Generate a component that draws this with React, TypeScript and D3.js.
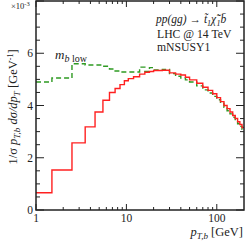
import React from "react";
import * as d3 from "d3";

// pT bin edges [GeV]
const binEdges = [
  1, 1.5, 2.5, 3.5, 4.5, 5.5, 6.5, 7.5, 8.5, 9.5, 10.5, 12, 14, 16, 18, 20, 25, 30, 35, 40,
  45, 50, 60, 70, 80, 90, 100, 110, 120, 130, 140, 150, 160, 170, 180, 190, 200,
];

// 1/sigma pT dsigma/dpT  (x 10^-3)
const nominal = [
  0.66, 1.53, 2.57, 3.18, 3.75, 4.2, 4.5, 4.65, 4.8, 4.95, 5.03, 5.1, 5.2, 5.27, 5.3, 5.34,
  5.35, 5.25, 5.2, 5.17, 5.08, 4.98, 4.85, 4.7, 4.58, 4.45, 4.3, 4.15, 4.0, 3.88, 3.75, 3.62,
  3.5, 3.38, 3.27, 3.16,
];
const mbLow = [
  4.9, 5.05, 5.6, 5.55, 5.55, 5.5, 5.4, 5.32, 5.28, 5.28, 5.28, 5.28, 5.47, 5.3, 5.45, 5.36,
  5.38, 5.22, 5.12, 5.05, 4.98, 4.9, 4.75, 4.6, 4.48, 4.35, 4.22, 4.08, 3.93, 3.8, 3.68, 3.55,
  3.43, 3.3, 3.2, 3.09,
];

const xMajor = [1, 10, 100];
const xLabels = ["1", "10", "100"];
const yMajor = [0, 2, 4, 6];

const W = 246;
const H = 242;
const margin = { top: 1, right: 2, bottom: 32, left: 36 };

const serif = "'Liberation Serif', 'DejaVu Serif', serif";

export default function App() {
  const x = d3
    .scaleLog()
    .domain([1, 200])
    .range([margin.left, W - margin.right]);
  const y = d3
    .scaleLinear()
    .domain([0, 8])
    .range([H - margin.bottom, margin.top]);

  const stepPath = (vals: number[]) => {
    const pts: [number, number][] = vals.map((v, i) => [binEdges[i], v]);
    pts.push([binEdges[binEdges.length - 1], vals[vals.length - 1]]);
    return d3
      .line<[number, number]>()
      .x(d => x(d[0]))
      .y(d => y(d[1]))
      .curve(d3.curveStepAfter)(pts) as string;
  };

  const x0 = margin.left;
  const x1 = W - margin.right;
  const yb = H - margin.bottom;
  const yt = margin.top;

  const xMinor: number[] = [];
  [1, 10, 100].forEach(dec => {
    for (let k = 2; k <= 9; k++) if (dec * k < 200) xMinor.push(dec * k);
  });
  const yMinor = d3.range(0, 8.01, 0.5).filter(v => v % 2 !== 0);

  const ink = "#222";

  return (
    <svg
      width={W}
      height={H}
      style={{ position: "absolute", left: 0, top: 0, background: "#fff" }}
      fontFamily={serif}
    >
      {/* curves */}
      <path d={stepPath(mbLow)} fill="none" stroke="#2e9a22" strokeWidth={1.4} strokeDasharray="5,3" />
      <path d={stepPath(nominal)} fill="none" stroke="#ff2020" strokeWidth={1.4} />

      {/* ticks */}
      <g stroke={ink} strokeWidth={1}>
        {xMajor.map(v => (
          <g key={"xM" + v}>
            <line x1={x(v)} x2={x(v)} y1={yb} y2={yb - 6} />
            <line x1={x(v)} x2={x(v)} y1={yt} y2={yt + 6} />
          </g>
        ))}
        {xMinor.map(v => (
          <g key={"xm" + v}>
            <line x1={x(v)} x2={x(v)} y1={yb} y2={yb - 3} />
            <line x1={x(v)} x2={x(v)} y1={yt} y2={yt + 3} />
          </g>
        ))}
        {yMajor.concat([8]).map(v => (
          <g key={"yM" + v}>
            <line x1={x0} x2={x0 + 8} y1={y(v)} y2={y(v)} />
            <line x1={x1} x2={x1 - 8} y1={y(v)} y2={y(v)} />
          </g>
        ))}
        {yMinor.map(v => (
          <g key={"ym" + v}>
            <line x1={x0} x2={x0 + 4} y1={y(v)} y2={y(v)} />
            <line x1={x1} x2={x1 - 4} y1={y(v)} y2={y(v)} />
          </g>
        ))}
      </g>

      {/* frame */}
      <rect
        x={x0}
        y={yt}
        width={x1 - x0}
        height={yb - yt}
        fill="none"
        stroke={ink}
        strokeWidth={1.5}
      />

      {/* x tick labels */}
      <g fontSize={11.5} fill={ink} textAnchor="middle">
        {xMajor.map((v, i) => (
          <text key={"xl" + v} x={x(v)} y={yb + 12}>
            {xLabels[i]}
          </text>
        ))}
      </g>

      {/* y tick labels */}
      <g fontSize={11.5} fill={ink} textAnchor="end">
        {yMajor.map(v => (
          <text key={"yl" + v} x={x0 - 3} y={y(v) + 4}>
            {v}
          </text>
        ))}
      </g>
      <text x={11} y={9} fontSize={8.5} fill={ink}>
        ×10
        <tspan dy={-3} fontSize={6.5}>
          -3
        </tspan>
      </text>

      {/* axis titles */}
      <text x={W - 3} y={H - 6} fontSize={12.5} fill={ink} textAnchor="end">
        <tspan fontStyle="italic">p</tspan>
        <tspan dy={3} fontSize={9} fontStyle="italic">
          T,b
        </tspan>
        <tspan dy={-3}> [GeV]</tspan>
      </text>
      <text
        transform={`translate(17, 107) rotate(-90)`}
        fontSize={12.5}
        fill={ink}
        textAnchor="middle"
      >
        1/σ{"  "}
        <tspan fontStyle="italic">p</tspan>
        <tspan dy={3} fontSize={9} fontStyle="italic">
          T,b
        </tspan>
        <tspan dy={-3} fontStyle="italic">
          {" "}dσ/dp
        </tspan>
        <tspan dy={3} fontSize={9} fontStyle="italic">
          T
        </tspan>
        <tspan dy={-3}> [GeV</tspan>
        <tspan dy={-4} fontSize={8}>
          -1
        </tspan>
        <tspan dy={4}>]</tspan>
      </text>

      {/* annotations */}
      <text x={156} y={23} fontSize={11.5} fill={ink} fontStyle="italic">
        pp(gg) → t̃
        <tspan dy={3} fontSize={8}>1</tspan>
        <tspan dy={-3}>χ̃</tspan>
        <tspan dy={-5} fontSize={8}>−</tspan>
        <tspan dx={-5} dy={8} fontSize={8}>1</tspan>
        <tspan dy={-3}>b̄</tspan>
      </text>
      <text x={157} y={38} fontSize={11.7} fill={ink}>
        LHC @ 14 TeV
      </text>
      <text x={157} y={51} fontSize={11.7} fill={ink}>
        mNSUSY1
      </text>
      <text x={55} y={59} fontSize={13} fill={ink} fontStyle="italic">
        m
        <tspan dy={3} fontSize={10}>
          b
        </tspan>
        <tspan fontStyle="normal" fontSize={10}> low</tspan>
      </text>
    </svg>
  );
}
